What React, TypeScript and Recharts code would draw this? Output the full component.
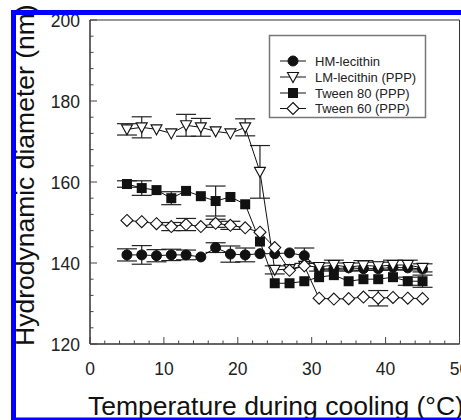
import React from 'react';
import { LineChart, Line, XAxis, YAxis, ErrorBar, ReferenceArea } from 'recharts';

const temps = [5, 7, 9, 11, 13, 15, 17, 19, 21, 23, 25, 27, 29, 31, 33, 35, 37, 39, 41, 43, 45];

const hmLecithin = [142, 142, 141.8, 142, 142, 141.5, 143.8, 142.2, 142, 142.3, 142.3, 142.5, 141.8, 138.5, 138.6, 138.8, 138.6, 138.6, 138.9, 138.8, 138.5];
const hmErr = [1.5, 2.3, 1.5, 1.4, 1.2, 0, 1.2, 2, 1.7, 0, 0, 0, 1.9, 0, 0, 0, 0, 0, 0, 0, 0];

const lmLecithin = [173, 173.5, 173, 172, 174, 173.5, 172.5, 172, 173.5, 162.5, 138.3, 138.5, 139.3, 139, 139.5, 139, 139.4, 139.2, 139.5, 139.5, 138.8];
const lmErr = [1.4, 2.6, 0, 0, 2.7, 2.2, 0, 0, 2.1, 6.5, 1, 0, 0, 1, 1.2, 1, 1.2, 1, 1.2, 1.2, 1];

const tween80 = [159.5, 158.5, 158, 156, 157.8, 156.5, 155.3, 156.3, 154.5, 145.3, 135, 135, 135.5, 136.5, 137, 135.5, 136, 136, 136.5, 135.5, 135.5];
const tween80Err = [0.8, 1.8, 0, 1.6, 0, 0, 3.7, 0, 0, 0, 0, 0, 0, 0, 0, 0, 0, 0, 0, 1, 1.5];

const tween60 = [150.5, 150.2, 149.7, 149, 149.5, 149, 149.8, 149.3, 148.7, 147.6, 143.8, 138.2, 139.3, 131.3, 131.1, 131.2, 131.6, 131.3, 131.5, 131.3, 131.2];
const tween60Err = [0, 0, 0, 1, 1.5, 0, 1, 1, 0, 0, 0, 0, 0, 0, 0, 0, 0, 1.9, 0, 0, 0];

const xTicks = [0, 2, 4, 6, 8, 10, 12, 14, 16, 18, 20, 22, 24, 26, 28, 30, 32, 34, 36, 38, 40, 42, 44, 46, 48, 50];
const yTicks = [120, 124, 128, 132, 136, 140, 144, 148, 152, 156, 160, 164, 168, 172, 176, 180, 184, 188, 192, 196, 200];

const seriesNames = ['HM-lecithin', 'LM-lecithin (PPP)', 'Tween 80 (PPP)', 'Tween 60 (PPP)'];
const seriesKinds = ['circle', 'triangle', 'square', 'diamond'];

const data = temps.map((t, i) => ({
  t,
  hm: hmLecithin[i],
  hmErr: hmErr[i],
  lm: lmLecithin[i],
  lmErr: lmErr[i],
  t80: tween80[i],
  t80Err: tween80Err[i],
  t60: tween60[i],
  t60Err: tween60Err[i],
}));

const INK = '#111';
const FONT = '"Liberation Sans", Arial, sans-serif';

function Marker({ cx, cy, kind }: { cx?: number; cy?: number; kind: string }) {
  if (cx == null || cy == null) return null;
  if (kind === 'circle') return <circle cx={cx} cy={cy} r={5} fill={INK} stroke={INK} />;
  if (kind === 'square') return <rect x={cx - 5} y={cy - 5} width={10} height={10} fill={INK} />;
  if (kind === 'triangle')
    return (
      <polygon
        points={`${cx - 5.5},${cy - 4.5} ${cx + 5.5},${cy - 4.5} ${cx},${cy + 5.5}`}
        fill="#fff"
        stroke={INK}
        strokeWidth={1.1}
      />
    );
  return (
    <polygon
      points={`${cx},${cy - 6} ${cx + 6},${cy} ${cx},${cy + 6} ${cx - 6},${cy}`}
      fill="#fff"
      stroke={INK}
      strokeWidth={1.1}
    />
  );
}

const dotFor = (kind: string) => (p: any) => <Marker key={`${kind}-${p.index}`} cx={p.cx} cy={p.cy} kind={kind} />;

function XTick(props: any) {
  const { x, y, payload } = props;
  const major = payload.value % 10 === 0;
  return (
    <g>
      <line x1={x} x2={x} y1={y} y2={y - (major ? 7 : 3.5)} stroke="#444" />
      {major && (
        <text x={x} y={y + 31} textAnchor="middle" fontSize={17.5} fontFamily={FONT} fill="#222">
          {payload.value}
        </text>
      )}
    </g>
  );
}

function YTick(props: any) {
  const { x, y, payload } = props;
  const major = payload.value % 20 === 0;
  return (
    <g>
      <line x1={x} x2={x + (major ? 7 : 3.5)} y1={y} y2={y} stroke="#444" />
      {major && (
        <text x={x - 10} y={y + 6.5} textAnchor="end" fontSize={17.5} fontFamily={FONT} fill="#222">
          {payload.value}
        </text>
      )}
    </g>
  );
}

function Legend() {
  const rows = [61, 77, 93, 108.5];
  return (
    <g>
      <rect x={269.5} y={35.5} width={156} height={82} fill="#fff" stroke="#777" strokeWidth={1.5} />
      {seriesNames.map((name, i) => (
        <g key={name}>
          <line x1={280} x2={306} y1={rows[i]} y2={rows[i]} stroke={INK} />
          <Marker cx={293} cy={rows[i]} kind={seriesKinds[i]} />
          <text x={315} y={rows[i] + 4.5} fontSize={13} fontFamily={FONT} fill="#222">
            {name}
          </text>
        </g>
      ))}
    </g>
  );
}

export default function App() {
  return (
    <div style={{ position: 'absolute', left: 0, top: 0, width: 461, height: 420, overflow: 'hidden', background: '#fff' }}>
      <LineChart width={520} height={420} data={data} margin={{ top: 20, right: 60.5, bottom: 0, left: 0 }}>
        <ReferenceArea x1={0} x2={50} y1={120} y2={200} fill="none" stroke="#333" strokeWidth={1} ifOverflow="visible" />
        <XAxis
          dataKey="t"
          type="number"
          domain={[0, 50]}
          ticks={xTicks}
          interval={0}
          height={76}
          tickSize={0}
          tickMargin={0}
          tickLine={false}
          tick={<XTick />}
          axisLine={{ stroke: '#333' }}
        />
        <YAxis
          type="number"
          domain={[120, 200]}
          ticks={yTicks}
          interval={0}
          width={90}
          tickSize={0}
          tickMargin={0}
          tickLine={false}
          tick={<YTick />}
          axisLine={{ stroke: '#333' }}
        />
        <Line dataKey="hm" stroke={INK} strokeWidth={1} dot={dotFor('circle')} isAnimationActive={false}>
          <ErrorBar dataKey="hmErr" width={10} stroke="#222" strokeWidth={1.2} direction="y" />
        </Line>
        <Line dataKey="lm" stroke={INK} strokeWidth={1} dot={dotFor('triangle')} isAnimationActive={false}>
          <ErrorBar dataKey="lmErr" width={10} stroke="#222" strokeWidth={1.2} direction="y" />
        </Line>
        <Line dataKey="t80" stroke={INK} strokeWidth={1} dot={dotFor('square')} isAnimationActive={false}>
          <ErrorBar dataKey="t80Err" width={10} stroke="#222" strokeWidth={1.2} direction="y" />
        </Line>
        <Line dataKey="t60" stroke={INK} strokeWidth={1} dot={dotFor('diamond')} isAnimationActive={false}>
          <ErrorBar dataKey="t60Err" width={10} stroke="#222" strokeWidth={1.2} direction="y" />
        </Line>
      </LineChart>
      <svg width={461} height={420} style={{ position: 'absolute', left: 0, top: 0, pointerEvents: 'none' }}>
        <Legend />
        <text transform="translate(34, 346) rotate(-90)" fontSize={26.5} fontFamily={FONT} fill="#111">
          Hydrodynamic diameter (nm)
        </text>
        <text x={88} y={414.5} fontSize={26.5} fontFamily={FONT} fill="#111">
          Temperature during cooling (°C)
        </text>
        <rect x={11} y={10} width={450} height={5} fill="#0000ff" />
        <rect x={11} y={10} width={5} height={410} fill="#0000ff" />
        <rect x={11} y={417.5} width={450} height={2.5} fill="#0000ff" />
      </svg>
    </div>
  );
}
